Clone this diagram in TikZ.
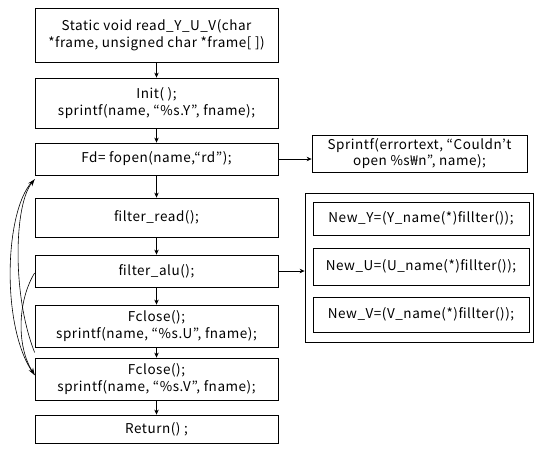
\documentclass[tikz,border=0pt]{standalone}
\usepackage{fontspec}
\setmainfont{Noto Sans CJK KR}[LetterSpace=4]
\usetikzlibrary{arrows.meta}
\tikzset{
  box/.style={draw, line width=0.8pt, rectangle, align=center, inner sep=1pt,
    font=\fontsize{13.5}{16.5}\selectfont},
  flow/.style={line width=0.7pt, -{Stealth[length=5pt,width=4.5pt]}},
  loop/.style={line width=0.6pt},
  looparrow/.style={line width=0.6pt, -{Stealth[length=7pt,width=5pt]}},
}
\begin{document}
\begin{tikzpicture}[x=1pt,y=-1pt]
\useasboundingbox (0,0) rectangle (534,457);

% main column
\node[box, minimum width=243pt, minimum height=54pt] (b1) at (156.5,35)
  {Static void read\_Y\_U\_V(char\\*frame, unsigned char *frame[ ])};
\node[box, minimum width=243pt, minimum height=50pt] (b2) at (156.5,103)
  {Init( );\\sprintf(name, “\%s.Y”, fname);};
\node[box, minimum width=243pt, minimum height=32pt] (b3) at (156.5,159)
  {Fd= fopen(name,“rd”);};
\node[box, minimum width=243pt, minimum height=39pt] (b4) at (156.5,217.5)
  {filter\_read();};
\node[box, minimum width=243pt, minimum height=32pt] (b5) at (156.5,271)
  {filter\_alu();};
\node[box, minimum width=243pt, minimum height=42pt] (b6) at (156.5,326)
  {Fclose();\\sprintf(name, “\%s.U”, fname);};
\node[box, minimum width=243pt, minimum height=42pt] (b7) at (156.5,379)
  {Fclose();\\sprintf(name, “\%s.V”, fname);};
\node[box, minimum width=243pt, minimum height=28pt] (b8) at (156.5,429)
  {Return() ;};

% error branch
\node[box, minimum width=215pt, minimum height=37pt] (err) at (419.5,153.5)
  {Sprintf(errortext, “Couldn’t\\open \%s₩n”, name);};

% filter group
\node[box, minimum width=228pt, minimum height=149pt] (grp) at (419,267.5) {};
\node[box, minimum width=216pt, minimum height=33pt] (ny) at (421,218.5)
  {New\_Y=(Y\_name(*)fillter());};
\node[box, minimum width=216pt, minimum height=37pt] (nu) at (421,266.5)
  {New\_U=(U\_name(*)fillter());};
\node[box, minimum width=216pt, minimum height=35pt] (nv) at (421,314.5)
  {New\_V=(V\_name(*)fillter());};

% straight connectors
\draw[flow] (b1) -- (b2);
\draw[flow] (b2) -- (b3);
\draw[flow] (b3) -- (b4);
\draw[flow] (b4) -- (b5);
\draw[flow] (b5) -- (b6);
\draw[flow] (b6) -- (b7);
\draw[flow] (b7) -- (b8);
\draw[flow] (b3.east) -- (b3.east -| err.west);
\draw[flow] (b5.east) -- (b5.east -| grp.west);

% loop-back curves on the left
\coordinate (fdin) at ([yshift=-4pt]b3.south west);
\coordinate (fvin) at ([yshift=4pt]b7.west);
\draw[looparrow] ([yshift=-5pt]b6.south west) .. controls (12,295) and (14,205) .. (fdin);
\draw[looparrow] ([yshift=-2pt]b5.west) .. controls (18,300) and (16,345) .. (fvin);
\draw[loop] (fdin) .. controls (4,205) and (0,330) .. (fvin);
\end{tikzpicture}
\end{document}
